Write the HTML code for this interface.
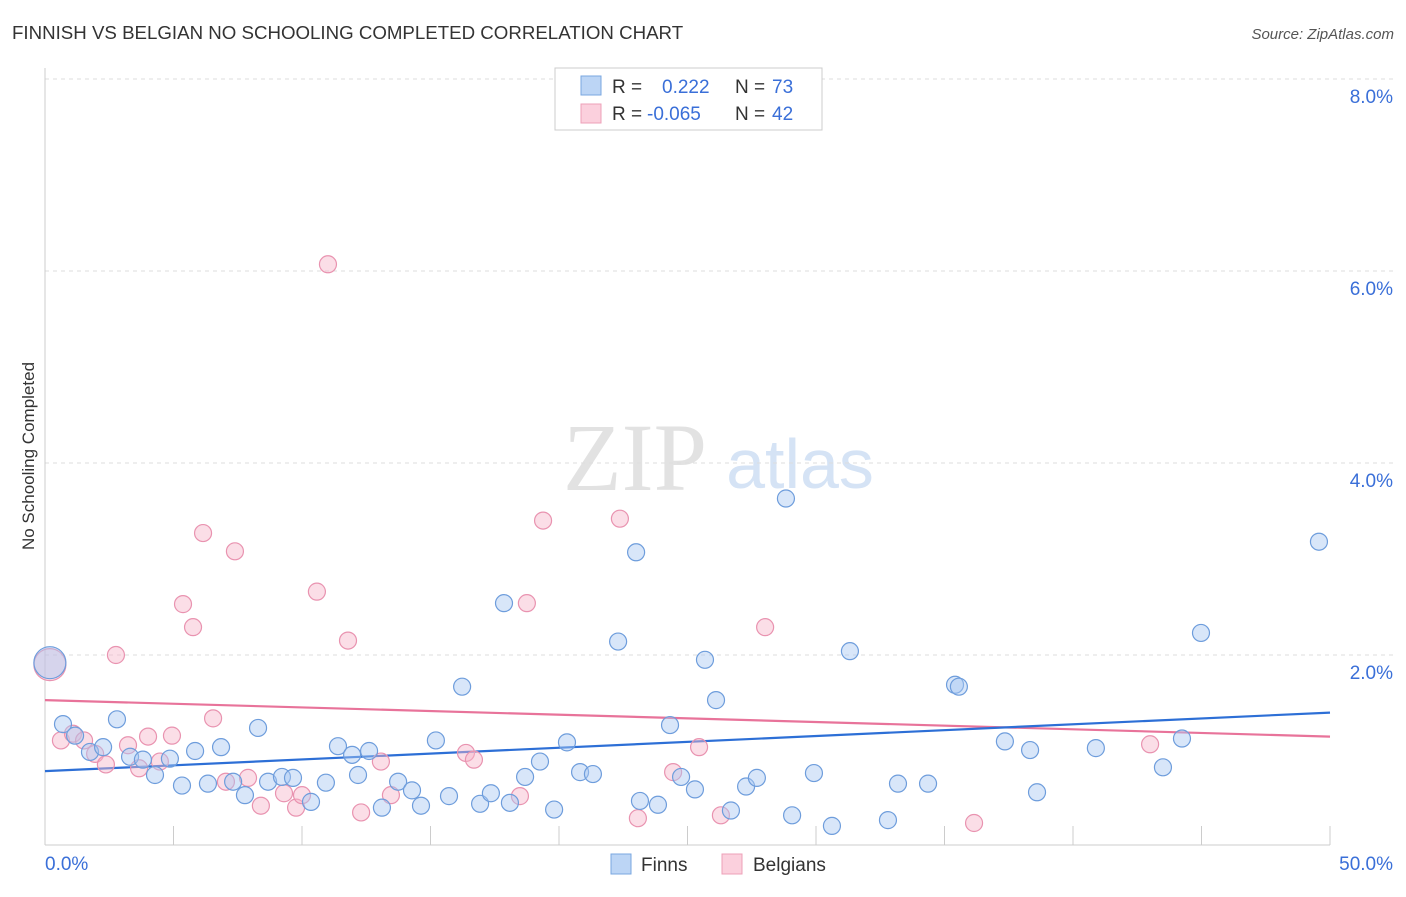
<!DOCTYPE html>
<html><head><meta charset="utf-8"><style>
body{margin:0;background:#fff;font-family:"Liberation Sans",sans-serif;}
svg text{font-family:"Liberation Sans",sans-serif;}
</style></head><body>
<svg id="chart" width="1406" height="892">
<text x="12" y="39" font-size="18.7" fill="#333">FINNISH VS BELGIAN NO SCHOOLING COMPLETED CORRELATION CHART</text>
<text x="1394" y="39" font-size="15" fill="#555" text-anchor="end" font-style="italic">Source: ZipAtlas.com</text>
<text transform="translate(34,456) rotate(-90)" font-size="17" fill="#333" text-anchor="middle">No Schooling Completed</text>
<g>
<text x="635" y="490" font-size="96" fill="#e2e2e2" text-anchor="middle" style="font-family:'Liberation Serif',serif">ZIP</text>
<text x="800" y="488" font-size="70" fill="#d5e3f5" text-anchor="middle">atlas</text>
</g>
<g id="grid"></g><g id="axes"></g><g id="lines"></g><g id="pts"></g>
<g>
<rect x="555" y="68" width="267" height="62" fill="#fff" stroke="#ccc"/>
<rect x="581" y="76" width="20" height="19" fill="#bcd5f5" stroke="#7aa7e0"/>
<rect x="581" y="104" width="20" height="19" fill="#fbd0dd" stroke="#eea0b8"/>
<text x="612" y="93" font-size="19" fill="#333">R =</text>
<text x="662" y="93" font-size="19" fill="#3a6fd8">0.222</text>
<text x="735" y="93" font-size="19" fill="#333">N =</text>
<text x="772" y="93" font-size="19" fill="#3a6fd8">73</text>
<text x="612" y="120" font-size="19" fill="#333">R =</text>
<text x="647" y="120" font-size="19" fill="#3a6fd8">-0.065</text>
<text x="735" y="120" font-size="19" fill="#333">N =</text>
<text x="772" y="120" font-size="19" fill="#3a6fd8">42</text>
</g>
<g>
<rect x="611" y="854" width="20" height="20" fill="#bcd5f5" stroke="#7aa7e0"/>
<text x="641" y="871" font-size="19" fill="#333">Finns</text>
<rect x="722" y="854" width="20" height="20" fill="#fbd0dd" stroke="#eea0b8"/>
<text x="753" y="871" font-size="19" fill="#333">Belgians</text>
</g>
</svg>
<script>
const yTicks=[2,4,6,8];
const yTickLabels=["2.0%","4.0%","6.0%","8.0%"];
const xEndLabels=["0.0%","50.0%"];
const finnX=[0.19,0.70,1.17,1.75,2.26,2.80,3.31,3.81,4.28,4.86,5.33,5.84,6.34,6.85,7.32,7.78,8.29,8.68,9.22,9.65,10.35,10.93,11.40,11.95,12.18,12.61,13.11,13.74,14.28,14.63,15.21,15.72,16.23,16.93,17.35,17.86,18.09,18.68,19.26,19.81,20.31,20.82,21.32,22.30,23.00,23.15,23.85,24.32,24.75,25.29,25.68,26.11,26.69,27.28,27.70,28.83,29.07,29.92,30.62,31.32,32.80,33.19,34.36,35.41,35.56,37.35,38.33,38.60,40.89,43.50,44.24,44.98,49.57];
const finnY=[1.92,1.28,1.16,0.99,1.04,1.33,0.94,0.91,0.75,0.92,0.64,1.00,0.66,1.04,0.68,0.54,1.24,0.68,0.73,0.72,0.47,0.67,1.05,0.96,0.75,1.00,0.41,0.68,0.59,0.43,1.11,0.53,1.67,0.45,0.56,2.54,0.46,0.73,0.89,0.39,1.09,0.78,0.76,2.14,3.07,0.48,0.44,1.27,0.73,0.60,1.95,1.53,0.38,0.63,0.72,3.63,0.33,0.77,0.22,2.04,0.28,0.66,0.66,1.69,1.67,1.10,1.01,0.57,1.03,0.83,1.13,2.23,3.18];
const belgX=[0.19,0.62,1.09,1.52,1.95,2.37,2.76,3.23,3.66,4.01,4.47,4.94,5.37,5.76,6.15,6.54,7.04,7.39,7.90,8.40,9.30,9.77,10.00,10.58,11.01,11.79,12.30,13.07,13.46,16.38,16.69,18.48,18.75,19.38,22.37,23.07,24.44,25.45,26.30,28.02,36.15,43.00];
const belgY=[1.90,1.11,1.18,1.11,0.97,0.86,2.00,1.06,0.82,1.15,0.89,1.16,2.53,2.29,3.27,1.34,0.68,3.08,0.72,0.43,0.56,0.41,0.54,2.66,6.07,2.15,0.36,0.89,0.54,0.98,0.91,0.53,2.54,3.40,3.42,0.30,0.78,1.04,0.33,2.29,0.25,1.07];
const finnTrend=[0.79,1.40];
const belgTrend=[1.53,1.15];
const NS='http://www.w3.org/2000/svg';
const xs=v=>45+v*(1285/50);
const ys=v=>847-v*96;
function mk(tag,attrs,parent){const e=document.createElementNS(NS,tag);for(const k in attrs)e.setAttribute(k,attrs[k]);document.getElementById(parent).appendChild(e);return e;}
yTicks.forEach((t,i)=>{
 const g=mk('line',{x1:45,x2:1393,y1:ys(t),y2:ys(t),stroke:'#ddd','stroke-dasharray':'4,4'},'grid');
 
 
 const l=mk('text',{x:1393,y:ys(t)+24,'font-size':19,fill:'#3a6fd8','text-anchor':'end'},'grid');
 l.textContent=yTickLabels[i];
 
 
});
const topGrid=mk('line',{x1:45,x2:1393,y1:79,y2:79,stroke:'#ddd','stroke-dasharray':'4,4'},'grid');


const ya=mk('line',{x1:45,x2:45,y1:68,y2:845,stroke:'#ccc'},'axes');


const xa=mk('line',{x1:45,x2:1330,y1:845,y2:845,stroke:'#ccc'},'axes');


for(let i=1;i<=10;i++){const t=mk('line',{x1:xs(i*5),x2:xs(i*5),y1:826,y2:845,stroke:'#ccc'},'axes');
 
 }
[[0,'start',45],[50,'end',1393]].forEach((d,i)=>{const l=mk('text',{x:d[2],y:870,'font-size':19,fill:'#3a6fd8','text-anchor':d[1]},'axes');l.textContent=xEndLabels[i];
 
 });
function pts(X,Y,fill,stroke,name){X.forEach((x,i)=>{const big=i===0;const c=mk('circle',{cx:xs(x),cy:ys(Y[i]),r:big?16:8.5,fill:fill,'fill-opacity':0.45,stroke:stroke,'stroke-width':1.2},'pts');
 
 });}
pts(belgX,belgY,'#f6b6ca','#e993b0','belgian-point');
pts(finnX,finnY,'#a8c8f2','#6e9ddc','finn-point');
const l1=mk('line',{x1:xs(0),x2:xs(50),y1:ys(belgTrend[0]),y2:ys(belgTrend[1]),stroke:'#e8739a','stroke-width':2.2},'lines');


const l2=mk('line',{x1:xs(0),x2:xs(50),y1:ys(finnTrend[0]),y2:ys(finnTrend[1]),stroke:'#2d6fd6','stroke-width':2.2},'lines');


</script>
</body></html>
